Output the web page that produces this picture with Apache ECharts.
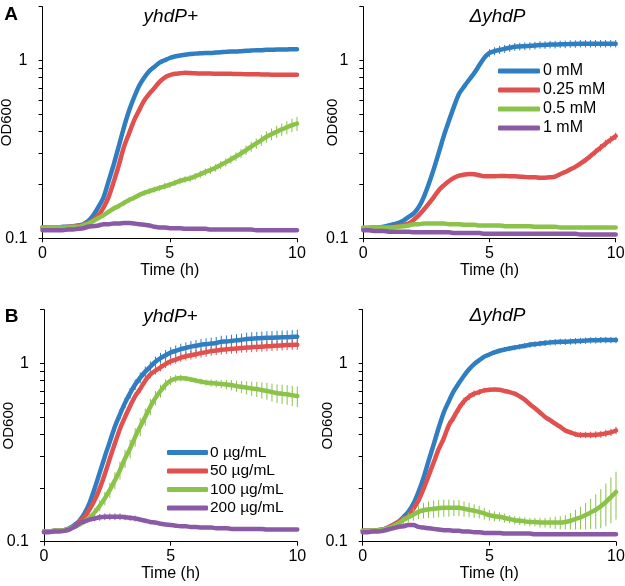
<!DOCTYPE html>
<html><head><meta charset="utf-8">
<script src="https://cdn.jsdelivr.net/npm/echarts@6/dist/echarts.min.js"></script>
<style>html,body{margin:0;padding:0;background:#fff}#c{width:625px;height:586px}</style>
</head><body><div id="c"></div>
<script>
// ---------- data ----------
const timeH = [
  0,0.2,0.4,0.6,0.8,1,1.2,1.4,1.6,1.8,
  2,2.2,2.4,2.6,2.8,3,3.2,3.4,3.6,3.8,
  4,4.2,4.4,4.6,4.8,5,5.2,5.4,5.6,5.8,
  6,6.2,6.4,6.6,6.8,7,7.2,7.4,7.6,7.8,
  8,8.2,8.4,8.6,8.8,9,9.2,9.4,9.6,9.8,
  10];
const legendA = ['0 mM','0.25 mM','0.5 mM','1 mM'];
const legendB = ['0 µg/mL','50 µg/mL','100 µg/mL','200 µg/mL'];
const panelTitles = ['yhdP+','ΔyhdP','yhdP+','ΔyhdP'];
const panelLetters = ['A','B'];
const xTickValues = [0,5,10];
const yTickValues = [0.1,0.2,0.3,0.4,0.5,0.6,0.7,0.8,0.9,1,2];
const yLabelValues = [0.1,1];

// Panel A, yhdP+
const aWtBlue = [
  .115,.115,.115,.115,.116,.116,.117,.118,.120,.125,
  .135,.150,.170,.210,.260,.330,.420,.520,.620,.720,
  .800,.870,.920,.970,1.00,1.03,1.05,1.065,1.075,1.085,
  1.09,1.095,1.10,1.10,1.105,1.11,1.115,1.12,1.12,1.125,
  1.13,1.135,1.14,1.14,1.145,1.145,1.15,1.15,1.15,1.155,
  1.155];
const aWtBlueErr = [
  .002,.002,.002,.002,.002,.002,.002,.002,.002,.002,
  .003,.003,.004,.004,.005,.006,.007,.008,.009,.010,
  .010,.010,.010,.010,.010,.010,.010,.010,.010,.010,
  .010,.010,.010,.010,.010,.010,.010,.010,.010,.010,
  .010,.010,.010,.010,.010,.010,.010,.010,.010,.010,
  .010];
const aWtRed = [
  .115,.115,.115,.115,.115,.116,.116,.118,.119,.122,
  .127,.135,.149,.171,.208,.258,.326,.388,.460,.525,
  .595,.650,.700,.757,.800,.825,.840,.845,.850,.848,
  .845,.843,.842,.842,.841,.840,.840,.839,.838,.837,
  .835,.835,.834,.833,.832,.830,.830,.830,.830,.830,
  .830];
const aWtRedErr = [
  .002,.002,.002,.002,.002,.002,.002,.002,.003,.003,
  .004,.005,.007,.009,.012,.015,.018,.020,.022,.024,
  .024,.024,.022,.020,.018,.015,.012,.010,.010,.010,
  .010,.010,.010,.010,.010,.010,.010,.010,.010,.010,
  .010,.010,.010,.010,.010,.010,.010,.010,.010,.010,
  .010];
const aWtGreen = [
  .115,.115,.115,.115,.115,.115,.116,.116,.118,.121,
  .125,.130,.135,.141,.147,.152,.158,.164,.169,.175,
  .180,.184,.188,.192,.196,.200,.205,.210,.214,.217,
  .223,.229,.236,.242,.249,.258,.267,.277,.288,.300,
  .313,.327,.341,.356,.372,.385,.397,.409,.420,.432,
  .441];
const aWtGreenErr = [
  .002,.002,.002,.002,.002,.002,.002,.002,.002,.002,
  .003,.003,.004,.004,.005,.005,.005,.006,.006,.006,
  .006,.007,.007,.007,.008,.008,.008,.009,.009,.010,
  .010,.011,.011,.012,.012,.013,.014,.015,.016,.018,
  .019,.021,.023,.025,.027,.029,.031,.033,.036,.038,
  .040];
const aWtPurple = [
  .111,.111,.111,.111,.111,.112,.112,.113,.114,.116,
  .117,.118,.120,.120,.121,.121,.122,.122,.121,.120,
  .119,.118,.116,.115,.115,.114,.114,.114,.113,.113,
  .113,.113,.113,.112,.112,.112,.112,.112,.112,.112,
  .112,.112,.111,.111,.111,.111,.111,.111,.111,.111,
  .111];
const aWtPurpleErr = [
  .002,.002,.002,.002,.002,.002,.002,.002,.002,.002,
  .002,.002,.002,.002,.002,.002,.002,.002,.002,.002,
  .002,.002,.002,.002,.002,.002,.002,.002,.002,.002,
  .002,.002,.002,.002,.002,.002,.002,.002,.002,.002,
  .002,.002,.002,.002,.002,.002,.002,.002,.002,.002,
  .002];

// Panel A, ΔyhdP
const aKoBlue = [
  .114,.114,.115,.115,.116,.118,.120,.122,.126,.132,
  .138,.150,.171,.203,.247,.306,.380,.460,.553,.650,
  .714,.780,.850,.940,1.035,1.10,1.127,1.145,1.16,1.175,
  1.19,1.195,1.20,1.205,1.21,1.22,1.22,1.225,1.225,1.23,
  1.23,1.235,1.235,1.24,1.24,1.24,1.24,1.24,1.24,1.24,
  1.24];
const aKoBlueErr = [
  .002,.002,.002,.002,.002,.002,.002,.002,.002,.002,
  .003,.004,.005,.006,.008,.010,.012,.014,.016,.018,
  .020,.024,.028,.035,.045,.055,.058,.060,.060,.060,
  .060,.060,.060,.060,.060,.060,.060,.060,.060,.060,
  .060,.060,.060,.060,.060,.060,.060,.060,.060,.060,
  .060];
const aKoRed = [
  .114,.114,.114,.114,.114,.115,.116,.117,.119,.121,
  .127,.135,.145,.157,.171,.187,.199,.210,.219,.225,
  .228,.230,.229,.226,.223,.223,.223,.224,.224,.223,
  .223,.222,.221,.220,.220,.219,.219,.220,.222,.229,
  .236,.244,.252,.263,.275,.290,.306,.323,.341,.358,
  .375];
const aKoRedErr = [
  .002,.002,.002,.002,.002,.002,.002,.002,.002,.002,
  .003,.003,.003,.003,.003,.003,.003,.003,.003,.003,
  .003,.003,.003,.003,.003,.003,.003,.003,.003,.003,
  .003,.003,.003,.003,.003,.003,.004,.004,.005,.005,
  .006,.007,.008,.009,.010,.012,.013,.015,.016,.017,
  .018];
const aKoGreen = [
  .115,.115,.115,.115,.115,.115,.115,.116,.117,.118,
  .120,.120,.121,.121,.121,.121,.121,.120,.120,.120,
  .119,.119,.119,.118,.118,.118,.118,.118,.117,.117,
  .117,.117,.117,.117,.116,.116,.116,.116,.116,.115,
  .115,.115,.115,.115,.115,.115,.115,.115,.115,.115,
  .115];
const aKoGreenErr = [
  .002,.002,.002,.002,.002,.002,.002,.002,.002,.002,
  .002,.002,.002,.002,.002,.002,.002,.002,.002,.002,
  .002,.002,.002,.002,.002,.002,.002,.002,.002,.002,
  .002,.002,.002,.002,.002,.002,.002,.002,.002,.002,
  .002,.002,.002,.002,.002,.002,.002,.002,.002,.002,
  .002];
const aKoPurple = [
  .111,.111,.110,.110,.110,.109,.109,.109,.109,.109,
  .108,.108,.108,.108,.108,.108,.108,.108,.107,.107,
  .107,.107,.107,.107,.106,.106,.106,.106,.106,.106,
  .106,.106,.106,.106,.106,.106,.106,.106,.106,.106,
  .106,.106,.106,.105,.105,.105,.105,.105,.105,.105,
  .105];
const aKoPurpleErr = [
  .001,.001,.001,.001,.001,.001,.001,.001,.001,.001,
  .001,.001,.001,.001,.001,.001,.001,.001,.001,.001,
  .001,.001,.001,.001,.001,.001,.001,.001,.001,.001,
  .001,.001,.001,.001,.001,.001,.001,.001,.001,.001,
  .001,.001,.001,.001,.001,.001,.001,.001,.001,.001,
  .001];

// Panel B, yhdP+
const bWtBlue = [
  .114,.114,.115,.115,.116,.119,.124,.131,.144,.165,
  .199,.244,.300,.364,.442,.518,.600,.680,.760,.830,
  .898,.958,1.02,1.07,1.11,1.15,1.175,1.20,1.22,1.24,
  1.255,1.27,1.28,1.29,1.30,1.32,1.325,1.335,1.345,1.355,
  1.37,1.375,1.38,1.385,1.39,1.39,1.395,1.40,1.40,1.405,
  1.41];
const bWtBlueErr = [
  .002,.002,.002,.002,.003,.004,.005,.006,.008,.010,
  .013,.016,.020,.024,.029,.034,.040,.046,.052,.058,
  .062,.066,.070,.074,.078,.082,.085,.088,.090,.093,
  .095,.098,.100,.102,.104,.106,.108,.110,.112,.114,
  .116,.118,.120,.122,.124,.125,.126,.127,.128,.129,
  .130];
const bWtRed = [
  .114,.114,.115,.115,.116,.118,.122,.130,.138,.152,
  .171,.199,.239,.293,.356,.430,.500,.576,.654,.720,
  .800,.866,.910,.950,.990,1.026,1.05,1.076,1.095,1.11,
  1.125,1.14,1.155,1.17,1.18,1.19,1.20,1.205,1.21,1.22,
  1.225,1.23,1.235,1.24,1.245,1.25,1.255,1.26,1.265,1.268,
  1.27];
const bWtRedErr = [
  .002,.002,.002,.002,.002,.003,.003,.004,.005,.006,
  .008,.010,.013,.016,.020,.024,.027,.030,.033,.036,
  .040,.042,.045,.047,.050,.052,.054,.056,.058,.060,
  .062,.064,.066,.068,.069,.070,.071,.072,.073,.074,
  .075,.076,.077,.078,.079,.080,.080,.080,.080,.080,
  .080];
const bWtGreen = [
  .114,.114,.115,.115,.116,.118,.121,.125,.130,.137,
  .146,.159,.175,.195,.221,.252,.293,.333,.387,.442,
  .502,.572,.640,.700,.760,.800,.820,.826,.822,.812,
  .800,.790,.780,.775,.770,.765,.760,.755,.745,.738,
  .730,.723,.717,.708,.700,.690,.680,.675,.670,.662,
  .655];
const bWtGreenErr = [
  .002,.002,.002,.002,.002,.003,.003,.004,.005,.006,
  .008,.011,.015,.019,.024,.029,.034,.040,.046,.052,
  .056,.060,.060,.058,.054,.048,.042,.036,.030,.028,
  .028,.030,.032,.035,.038,.042,.046,.050,.054,.058,
  .062,.066,.070,.073,.076,.079,.081,.083,.085,.086,
  .087];
const bWtPurple = [
  .113,.113,.114,.114,.115,.117,.121,.127,.130,.133,
  .135,.137,.138,.138,.138,.138,.137,.136,.135,.133,
  .131,.129,.128,.126,.125,.124,.123,.122,.122,.121,
  .121,.120,.120,.120,.119,.119,.119,.118,.118,.118,
  .118,.118,.118,.118,.117,.117,.117,.117,.117,.117,
  .117];
const bWtPurpleErr = [
  .001,.001,.001,.001,.001,.001,.002,.003,.004,.004,
  .005,.006,.006,.006,.006,.006,.005,.005,.005,.004,
  .004,.003,.003,.003,.002,.002,.002,.002,.002,.002,
  .002,.002,.002,.002,.002,.002,.002,.002,.002,.002,
  .002,.002,.002,.002,.002,.002,.002,.002,.002,.002,
  .002];

// Panel B, ΔyhdP
const bKoBlue = [
  .115,.115,.115,.116,.117,.120,.124,.129,.137,.147,
  .163,.190,.228,.284,.350,.435,.530,.613,.700,.775,
  .852,.926,.990,1.04,1.09,1.12,1.15,1.176,1.195,1.21,
  1.225,1.24,1.255,1.27,1.28,1.29,1.30,1.31,1.315,1.32,
  1.32,1.325,1.33,1.335,1.34,1.345,1.345,1.35,1.35,1.35,
  1.35];
const bKoBlueErr = [
  .002,.002,.002,.002,.002,.002,.002,.002,.002,.002,
  .004,.005,.006,.008,.010,.012,.014,.016,.018,.020,
  .022,.024,.026,.028,.030,.032,.034,.036,.038,.040,
  .042,.044,.046,.047,.048,.049,.050,.051,.052,.053,
  .054,.054,.055,.055,.055,.055,.055,.055,.055,.055,
  .055];
const bKoRed = [
  .115,.115,.115,.116,.117,.120,.124,.129,.134,.139,
  .153,.170,.198,.234,.278,.330,.380,.450,.500,.560,
  .613,.650,.676,.690,.705,.710,.713,.710,.700,.690,
  .676,.653,.625,.590,.560,.530,.500,.480,.459,.440,
  .420,.410,.400,.397,.397,.397,.398,.400,.405,.410,
  .420];
const bKoRedErr = [
  .002,.002,.002,.002,.002,.002,.002,.002,.003,.004,
  .005,.007,.009,.012,.015,.018,.021,.025,.028,.030,
  .030,.030,.028,.026,.024,.020,.018,.016,.014,.013,
  .012,.012,.012,.012,.012,.012,.012,.012,.012,.012,
  .012,.013,.014,.015,.016,.017,.018,.018,.019,.019,
  .020];
const bKoGreen = [
  .115,.115,.115,.116,.117,.119,.122,.126,.132,.137,
  .142,.147,.150,.152,.153,.154,.155,.155,.155,.155,
  .153,.151,.149,.147,.144,.141,.139,.138,.136,.134,
  .132,.131,.130,.129,.129,.128,.128,.128,.128,.128,
  .129,.131,.134,.137,.141,.146,.151,.158,.167,.178,
  .190];
const bKoGreenErr = [
  .002,.002,.002,.002,.002,.003,.004,.005,.007,.009,
  .011,.013,.015,.016,.017,.017,.017,.017,.016,.016,
  .015,.014,.013,.012,.011,.010,.009,.008,.008,.007,
  .007,.007,.007,.007,.007,.008,.008,.009,.010,.011,
  .012,.014,.017,.020,.024,.028,.033,.039,.045,.051,
  .057];
const bKoPurple = [
  .113,.113,.114,.114,.115,.117,.119,.121,.122,.124,
  .124,.121,.120,.119,.118,.117,.116,.116,.115,.115,
  .114,.114,.113,.113,.112,.112,.112,.112,.111,.111,
  .111,.111,.111,.111,.110,.110,.110,.110,.110,.110,
  .110,.110,.110,.110,.110,.110,.110,.110,.110,.110,
  .110];
const bKoPurpleErr = [
  .002,.002,.002,.002,.002,.002,.002,.002,.002,.002,
  .002,.002,.002,.002,.002,.002,.002,.002,.002,.002,
  .002,.002,.002,.002,.002,.002,.002,.002,.002,.002,
  .002,.002,.002,.002,.002,.002,.002,.002,.002,.002,
  .002,.002,.002,.002,.002,.002,.002,.002,.002,.002,
  .002];

// ---------- styling ----------
const colors = ['#2E7EC1','#E0504E','#8BC34A','#8A5AA6'];
const FONT = 'Liberation Sans, Arial, sans-serif';
const grids = [
  {left:42.5, top:6.7, width:254.5, height:231.6, outerBoundsMode:'none', containLabel:false},
  {left:363.3, top:6.7, width:252.4, height:231.6, outerBoundsMode:'none', containLabel:false},
  {left:44, top:309.6, width:253.3, height:232.1, outerBoundsMode:'none', containLabel:false},
  {left:362.7, top:309.6, width:253.3, height:232.1, outerBoundsMode:'none', containLabel:false}
];
const yNameGaps = [28, 23, 28, 27];
const panels = [
  {names: legendA, vals:[aWtBlue,aWtRed,aWtGreen,aWtPurple], errs:[aWtBlueErr,aWtRedErr,aWtGreenErr,aWtPurpleErr]},
  {names: legendA, vals:[aKoBlue,aKoRed,aKoGreen,aKoPurple], errs:[aKoBlueErr,aKoRedErr,aKoGreenErr,aKoPurpleErr]},
  {names: legendB, vals:[bWtBlue,bWtRed,bWtGreen,bWtPurple], errs:[bWtBlueErr,bWtRedErr,bWtGreenErr,bWtPurpleErr]},
  {names: legendB, vals:[bKoBlue,bKoRed,bKoGreen,bKoPurple], errs:[bKoBlueErr,bKoRedErr,bKoGreenErr,bKoPurpleErr]}
];

function fmt(v){ return v >= 1 ? String(Math.round(v)) : String(Math.round(v*10)/10); }

const xAxes = grids.map((g,i)=>({
  type:'value', gridIndex:i, min:0, max:10, interval:5,
  axisLine:{show:true, lineStyle:{color:'#000', width:1}},
  axisTick:{show:true, length:4, lineStyle:{color:'#000'}},
  axisLabel:{fontSize:16, color:'#000', margin:7, fontFamily:FONT, fontWeight:'normal'},
  splitLine:{show:false},
  name:'Time (h)', nameLocation:'middle', nameGap:24, nameMoveOverlap:false,
  nameTextStyle:{fontSize:16, color:'#000', fontFamily:FONT, fontWeight:'normal'}
}));
const yAxes = grids.map((g,i)=>({
  type:'log', logBase:10, gridIndex:i, min:0.1, max:2,
  axisLine:{show:true, lineStyle:{color:'#000', width:1}},
  axisTick:{show:true, length:4, lineStyle:{color:'#000'}, customValues:yTickValues},
  minorTick:{show:false},
  axisLabel:{fontSize:16, color:'#000', margin:15, fontFamily:FONT, fontWeight:'normal', customValues:yLabelValues, formatter:fmt},
  splitLine:{show:false},
  name:'OD600', nameLocation:'middle', nameGap:yNameGaps[i], nameMoveOverlap:false,
  nameTextStyle:{fontSize:15, color:'#000', fontFamily:FONT, fontWeight:'normal'}
}));

const series = [];
panels.forEach((p,pi)=>{
  p.vals.forEach((vals,si)=>{
    const col = colors[si];
    series.push({
      type:'line', name:p.names[si], xAxisIndex:pi, yAxisIndex:pi,
      data: timeH.map((t,k)=>[t, vals[k]]),
      showSymbol:false, symbol:'none', smooth:0.3,
      lineStyle:{color:col, width:4.5, cap:'round', join:'round'},
      itemStyle:{color:col}, z:2+si, animation:false
    });
    const errs = p.errs[si];
    series.push({
      type:'custom', name:'err'+pi+'_'+si, xAxisIndex:pi, yAxisIndex:pi,
      data: timeH.map((t,k)=>[t, vals[k]-errs[k], vals[k]+errs[k]]),
      encode:{x:0, y:[1,2]},
      z:2+si, silent:true, animation:false,
      renderItem:function(params, api){
        const x = api.value(0);
        const p1 = api.coord([x, api.value(1)]);
        const p2 = api.coord([x, api.value(2)]);
        return {type:'line', shape:{x1:p1[0], y1:p1[1], x2:p2[0], y2:p2[1]},
                style:{stroke:col, lineWidth:1}};
      }
    });
  });
});

const titlePos = [[170.8,16.5],[497.5,16.5],[170.5,317],[497.5,316]];
const letterPos = [[11,14.5],[11.5,316.5]];
const graphics = [];
titlePos.forEach((pos,i)=>graphics.push({type:'text', x:pos[0], y:pos[1],
  style:{text:panelTitles[i], fontSize:19, fontStyle:'italic', fontFamily:FONT, fill:'#000', align:'center', verticalAlign:'middle'}}));
letterPos.forEach((pos,i)=>graphics.push({type:'text', x:pos[0], y:pos[1],
  style:{text:panelLetters[i], fontSize:19, fontWeight:'bold', fontFamily:FONT, fill:'#000', align:'center', verticalAlign:'middle'}}));

const chart = echarts.init(document.getElementById('c'), null, {renderer:'canvas'});
chart.setOption({
  animation:false,
  backgroundColor:'#fff',
  grid: grids,
  xAxis: xAxes,
  yAxis: yAxes,
  legend: [
    {data:legendA, orient:'vertical', left:498, top:63, padding:0, itemWidth:42, itemHeight:5, itemGap:3, icon:'roundRect',
     textStyle:{fontSize:16, color:'#000', fontFamily:FONT, padding:[0,0,0,-2]}, selectedMode:false},
    {data:legendB, orient:'vertical', left:167, top:444.5, padding:0, itemWidth:41, itemHeight:5, itemGap:2.5, icon:'roundRect',
     textStyle:{fontSize:15.5, color:'#000', fontFamily:FONT, padding:[0,0,0,-3]}, selectedMode:false}
  ],
  graphic: graphics,
  series: series
});
</script></body></html>
